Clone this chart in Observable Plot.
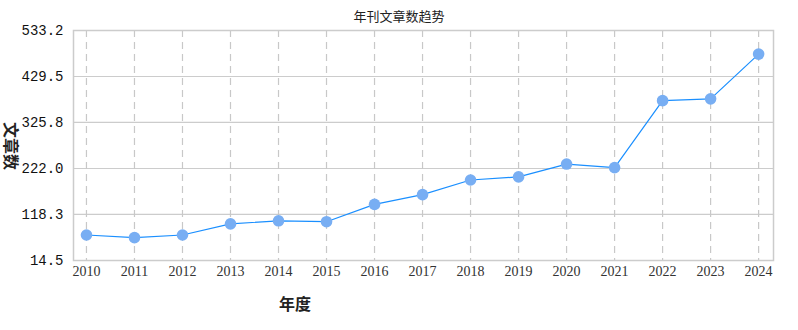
<!DOCTYPE html>
<html>
<head>
<meta charset="utf-8">
<script src="https://cdn.jsdelivr.net/npm/d3@7"></script>
<script src="https://cdn.jsdelivr.net/npm/@observablehq/plot@0.6"></script>
<style>
  body { margin: 0; background: #fff; }
  #wrap { position: relative; width: 798px; height: 330px; }
  .lbl { position: absolute; font-family: "Liberation Serif", "Noto Sans CJK SC", serif; color: #222; white-space: nowrap; }
  #title { left: 0; width: 798px; top: 6px; text-align: center; font-size: 13px; }
  #xlabel { left: 279px; top: 291px; font-size: 16px; font-weight: bold; }
  #ylabel { left: -12px; top: 134px; font-size: 16px; font-weight: bold; transform: rotate(90deg); transform-origin: center; }
</style>
</head>
<body>
<div id="wrap">
  <div id="title" class="lbl">年刊文章数趋势</div>
  <div id="xlabel" class="lbl">年度</div>
  <div id="ylabel" class="lbl">文章数</div>
</div>
<script>
const years = [2010, 2011, 2012, 2013, 2014, 2015, 2016, 2017, 2018, 2019, 2020, 2021, 2022, 2023, 2024];
const counts = [72, 66, 72, 97, 104, 102, 141, 163, 196, 203, 232, 224, 375, 379, 480];
const yTicks = [14.5, 118.3, 222.0, 325.8, 429.5, 533.2];

const data = years.map((y, i) => ({year: y, count: counts[i]}));

const chart = Plot.plot({
  width: 798,
  height: 330,
  marginTop: 30,
  marginBottom: 70,
  marginLeft: 73,
  marginRight: 25,
  style: {background: "#fff"},
  x: {domain: [2009.73, 2024.31], label: null},
  y: {domain: [14.5, 533.2], label: null},
  marks: [
    Plot.ruleY(yTicks, {stroke: "#cccccc", strokeWidth: 1.2}),
    Plot.ruleX(years, {stroke: "#c8c8c8", strokeWidth: 1.2, strokeDasharray: "7,5"}),
    Plot.frame({stroke: "#cccccc", strokeWidth: 1.5}),
    Plot.axisY(yTicks, {tickSize: 0, tickPadding: 10, tickFormat: d => d.toFixed(1),
      fontSize: 14, fontFamily: "Liberation Mono", fill: "#111", label: null}),
    Plot.axisX(years, {tickSize: 0, tickPadding: 6, tickFormat: d => String(d),
      fontSize: 14, fontFamily: "Liberation Serif", fill: "#333", label: null}),
    Plot.line(data, {x: "year", y: "count", stroke: "#1a8fff", strokeWidth: 1.2}),
    Plot.dot(data, {x: "year", y: "count", r: 5.8, fill: "#78aef3", stroke: "none"})
  ]
});
document.getElementById("wrap").prepend(chart);
chart.style.position = "absolute";
chart.style.left = "0";
chart.style.top = "0";
</script>
</body>
</html>
